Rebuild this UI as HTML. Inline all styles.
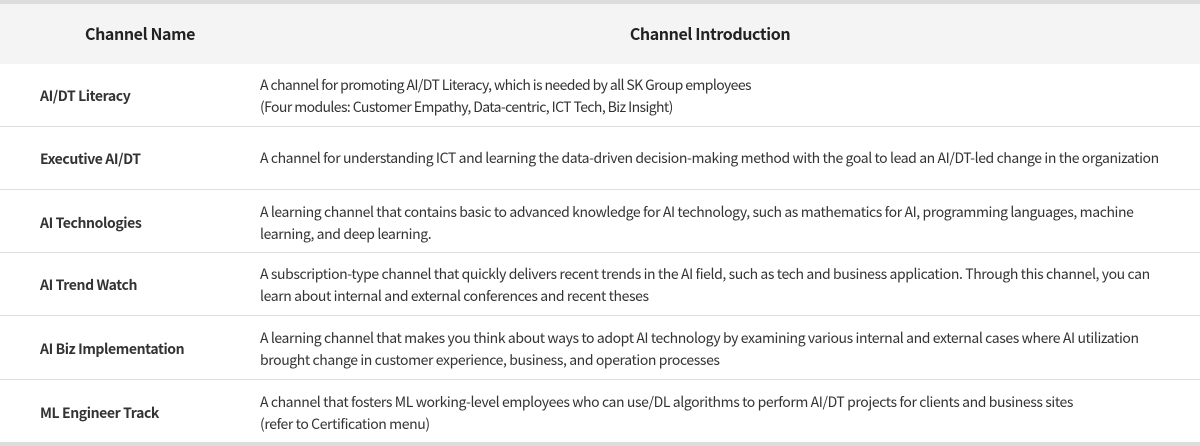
<!DOCTYPE html>
<html lang="en">
<head>
<meta charset="utf-8">
<title>Channel Table</title>
<style>
html,body{margin:0;padding:0;background:#fff}
body{width:1200px;height:446px;position:relative;overflow:hidden;font-family:"Noto Sans CJK KR","Liberation Sans",sans-serif;color:#333}
.band{position:absolute;left:0;width:1200px;height:4px;background:#ddd}
.head{position:absolute;left:0;top:4px;width:1200px;height:60px;background:#f4f4f4}
.sep{position:absolute;left:0;width:1200px;height:1px;background:#ddd}
.t{position:absolute;white-space:nowrap;line-height:22px;height:22px}
.th{font-size:16px;font-weight:700;color:#222;letter-spacing:-0.4px;transform:translateX(-50%)}
.n{left:40px;font-size:14px;font-weight:700;color:#333;letter-spacing:-0.4px}
.d{left:260px;font-size:14px;font-weight:400;color:#333;letter-spacing:-0.4px}
.tight{letter-spacing:-0.6px}
</style>
</head>
<body>
<div class="band" style="top:0"></div>
<div class="head"></div>
<div class="t th" style="left:140px;top:22px">Channel Name</div>
<div class="t th" style="left:710px;top:22px">Channel Introduction</div>

<div class="t n" style="top:85px">AI/DT Literacy</div>
<div class="t d tight" style="top:74px">A channel for promoting AI/DT Literacy, which is needed by all SK Group employees</div>
<div class="t d tight" style="top:96px">(Four modules: Customer Empathy, Data-centric, ICT Tech, Biz Insight)</div>
<div class="sep" style="top:126px"></div>

<div class="t n" style="top:148px">Executive AI/DT</div>
<div class="t d" style="top:147px">A channel for understanding ICT and learning the data-driven decision-making method with the goal to lead an AI/DT-led change in the organization</div>
<div class="sep" style="top:189px"></div>

<div class="t n" style="top:212px">AI Technologies</div>
<div class="t d" style="top:201px">A learning channel that contains basic to advanced knowledge for AI technology, such as mathematics for AI, programming languages, machine</div>
<div class="t d" style="top:223px">learning, and deep learning.</div>
<div class="sep" style="top:252px"></div>

<div class="t n" style="top:274px">AI Trend Watch</div>
<div class="t d" style="top:263px">A subscription-type channel that quickly delivers recent trends in the AI field, such as tech and business application. Through this channel, you can</div>
<div class="t d" style="top:285px">learn about internal and external conferences and recent theses</div>
<div class="sep" style="top:315px"></div>

<div class="t n" style="top:338px">AI Biz Implementation</div>
<div class="t d" style="top:327px">A learning channel that makes you think about ways to adopt AI technology by examining various internal and external cases where AI utilization</div>
<div class="t d" style="top:349px">brought change in customer experience, business, and operation processes</div>
<div class="sep" style="top:379px"></div>

<div class="t n" style="top:402px">ML Engineer Track</div>
<div class="t d" style="top:391px">A channel that fosters ML working-level employees who can use/DL algorithms to perform AI/DT projects for clients and business sites</div>
<div class="t d" style="top:413px">(refer to Certification menu)</div>
<div class="band" style="top:442px"></div>
</body>
</html>
